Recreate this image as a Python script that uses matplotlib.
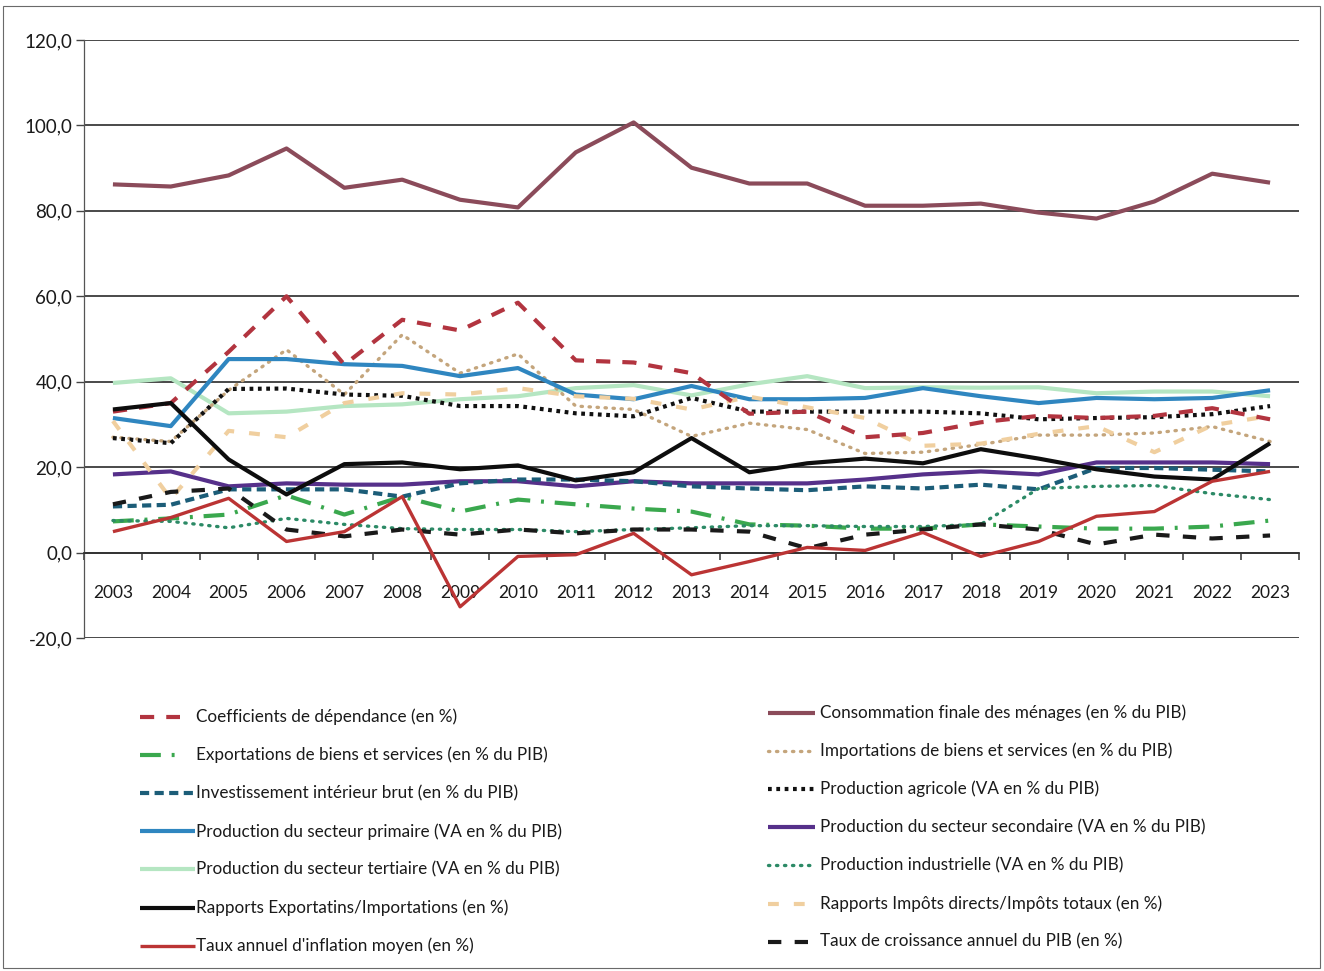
import matplotlib
matplotlib.use("Agg")
import matplotlib.pyplot as plt
from matplotlib.lines import Line2D
from matplotlib.patches import Rectangle
import numpy as np

# ---- data -------------------------------------------------------------
years = list(range(2003, 2024))

coef_dependance = [33, 35, 47, 60, 44, 54.5, 52, 58.5, 45, 44.5, 42, 32.5, 33, 27, 28, 30.5, 32, 31.5, 32, 33.8, 31.2]
consommation = [86.2, 85.7, 88.3, 94.6, 85.4, 87.3, 82.6, 80.8, 93.7, 100.7, 90.1, 86.4, 86.4, 81.2, 81.2, 81.7, 79.6, 78.2, 82.2, 88.7, 86.6]
exportations = [7.3, 8, 8.9, 13.4, 8.9, 13.1, 9.6, 12.4, 11.3, 10.3, 9.6, 6.6, 6.3, 5.6, 5.6, 6.6, 6.1, 5.6, 5.6, 6.1, 7.5]
importations = [27, 26, 38, 47.5, 37, 51, 42, 46.5, 34.3, 33.5, 27.2, 30.3, 28.8, 23.2, 23.5, 25.3, 27.5, 27.5, 28, 29.5, 26]
investissement = [10.8, 11.2, 14.8, 14.8, 14.8, 13.1, 16.2, 17.1, 17.1, 16.7, 15.5, 15, 14.6, 15.5, 15, 15.9, 14.8, 19.8, 19.8, 19.4, 19]
prod_agricole = [26.8, 25.6, 38.3, 38.4, 37, 36.7, 34.3, 34.3, 32.6, 31.9, 36.2, 33, 33, 33, 33, 32.6, 31.2, 31.5, 31.7, 32.4, 34.3]
prod_primaire = [31.5, 29.6, 45.3, 45.3, 44.1, 43.7, 41.3, 43.2, 37, 35.9, 39, 35.9, 35.9, 36.2, 38.5, 36.6, 35, 36.2, 35.9, 36.2, 38]
prod_secondaire = [18.3, 19, 15.5, 16.2, 15.9, 15.9, 16.7, 16.7, 15.5, 16.7, 16.2, 16.2, 16.2, 17.1, 18.3, 19, 18.3, 21.1, 21.1, 21.1, 20.7]
prod_tertiaire = [39.7, 40.8, 32.6, 33, 34.3, 34.7, 35.9, 36.6, 38.5, 39.2, 36.8, 39.4, 41.3, 38.5, 38.7, 38.6, 38.7, 37.3, 37.7, 37.7, 36.6]
prod_industrielle = [7.5, 7.3, 5.8, 8, 6.6, 5.6, 5.4, 5.4, 4.9, 5.4, 5.8, 6.3, 6.3, 6.1, 6.1, 6.6, 15, 15.5, 15.7, 13.8, 12.4]
rapport_exp_imp = [33.5, 35, 21.8, 13.6, 20.7, 21.1, 19.5, 20.4, 16.9, 18.8, 26.8, 18.8, 20.9, 22, 20.9, 24.2, 22, 19.5, 17.8, 17.1, 25.6]
rapport_impots = [30.8, 12.6, 28.5, 27, 35, 37.3, 37, 38.5, 36.6, 36, 33.5, 36.5, 34, 31.5, 25, 25.5, 27.8, 29.6, 23.5, 29.8, 32]
inflation = [4.9, 8.2, 12.7, 2.6, 4.9, 13.1, -12.7, -0.9, -0.5, 4.5, -5.2, -2.1, 1.2, 0.5, 4.7, -0.9, 2.6, 8.5, 9.6, 16.7, 19]
croissance_pib = [11.3, 14.2, 15, 5.4, 3.8, 5.4, 4.2, 5.4, 4.5, 5.4, 5.4, 4.9, 1, 4.2, 5.4, 6.6, 5.4, 1.9, 4.2, 3.3, 4]

y_ticks = [-20, 0, 20, 40, 60, 80, 100, 120]

plt.rcParams["font.family"] = ["Lato", "DejaVu Sans"]
TEXT_SIZE = 12.5
LEGEND_SIZE = 12.3
TEXT_COLOR = "#1a1a1a"

W, H = 1324, 971
fig = plt.figure(figsize=(W / 100, H / 100), dpi=100)
fig.patch.set_facecolor("white")


def fx(px):
    return px / W


def fy(py):
    return 1 - py / H


ax = fig.add_axes([fx(84), fy(638), fx(1299) - fx(84), fy(40) - fy(638)])

# series styles: (label, data, color, linewidth, dashes, capstyle, zorder)
series = {
    "coef": ("Coefficients de dépendance (en %)", coef_dependance, "#b2343f", 3.0, (3.4, 2.9), "butt", 5),
    "conso": ("Consommation finale des ménages (en % du PIB)", consommation, "#8b4b5a", 3.0, None, "butt", 5),
    "exp": ("Exportations de biens et services (en % du PIB)", exportations, "#3aa84e", 3.0, (5.0, 2.6, 0.7, 2.6), "butt", 4),
    "imp": ("Importations de biens et services (en % du PIB)", importations, "#c4a57c", 2.4, (0.4, 2.0), "round", 4),
    "inv": ("Investissement intérieur brut (en % du PIB)", investissement, "#1c5d78", 3.0, (2.2, 1.3), "butt", 4),
    "agri": ("Production agricole (VA en % du PIB)", prod_agricole, "#111111", 3.0, (0.9, 1.1), "butt", 4),
    "prim": ("Production du secteur primaire (VA en % du PIB)", prod_primaire, "#2f86c0", 3.0, None, "butt", 4),
    "sec": ("Production du secteur secondaire (VA en % du PIB)", prod_secondaire, "#56308a", 3.0, None, "butt", 3),
    "tert": ("Production du secteur tertiaire (VA en % du PIB)", prod_tertiaire, "#b5e6c2", 3.0, None, "butt", 3),
    "ind": ("Production industrielle (VA en % du PIB)", prod_industrielle, "#2c8a66", 2.4, (0.4, 2.0), "round", 4),
    "rei": ("Rapports Exportatins/Importations (en %)", rapport_exp_imp, "#0d0d0d", 3.0, None, "butt", 5),
    "rid": ("Rapports Impôts directs/Impôts totaux (en %)", rapport_impots, "#f0cf9f", 3.0, (2.6, 3.6), "butt", 4),
    "infl": ("Taux annuel d'inflation moyen (en %)", inflation, "#bb3434", 2.4, None, "butt", 6),
    "cro": ("Taux de croissance annuel du PIB (en %)", croissance_pib, "#1a1a1a", 3.0, (3.2, 3.2), "butt", 4),
}

x = np.arange(len(years))
for key, (label, vals, color, lw, dashes, cap, z) in series.items():
    kw = dict(color=color, lw=lw, zorder=z, solid_joinstyle="round", solid_capstyle="butt")
    if dashes is not None:
        kw["dashes"] = dashes
        kw["dash_capstyle"] = cap
    ax.plot(x, vals, **kw)

# axes, grid and ticks
ax.set_xlim(-0.5, len(years) - 0.5)
ax.set_ylim(-20, 120)
ax.set_yticks(y_ticks)
ax.set_yticklabels([f"{v:.1f}".replace(".", ",") for v in y_ticks])
ax.yaxis.grid(True, color="#3a3a3a", lw=1.3, zorder=1)
ax.set_axisbelow(True)

for s in ("top", "right"):
    ax.spines[s].set_visible(False)
ax.spines["left"].set_color("#555555")
ax.spines["left"].set_linewidth(0.9)
ax.spines["bottom"].set_position(("data", 0))
ax.spines["bottom"].set_color("#333333")
ax.spines["bottom"].set_linewidth(1.3)

ax.set_xticks(np.arange(-0.5, len(years), 1.0))
ax.set_xticklabels([])
ax.set_xticks(x, minor=True)
ax.set_xticklabels([str(y) for y in years], minor=True)
ax.tick_params(axis="x", which="major", direction="out", length=5, width=1.1, color="#333333")
ax.tick_params(axis="x", which="minor", length=0, pad=23, labelsize=TEXT_SIZE, labelcolor=TEXT_COLOR)
ax.tick_params(axis="y", direction="out", length=6, width=1, color="#444444", pad=2.5,
               labelsize=13.5, labelcolor=TEXT_COLOR)

# legend, drawn in two columns
left_keys = ["coef", "exp", "inv", "prim", "tert", "rei", "infl"]
right_keys = ["conso", "imp", "agri", "sec", "ind", "rid", "cro"]


def legend_entry(key, x0, x1, xt, yrow):
    label, _, color, lw, dashes, cap, _ = series[key]
    line = Line2D([fx(x0), fx(x1)], [fy(yrow), fy(yrow)], transform=fig.transFigure,
                  color=color, lw=lw, solid_capstyle="butt")
    if dashes is not None:
        line.set_dashes(dashes)
        line.set_dash_capstyle(cap)
    fig.add_artist(line)
    fig.text(fx(xt), fy(yrow), label, ha="left", va="center", fontsize=LEGEND_SIZE, color=TEXT_COLOR)


left_handle_ends = {"coef": 180, "exp": 182}
for i, key in enumerate(left_keys):
    yrow = 717 + 38.1 * i
    legend_entry(key, 140, left_handle_ends.get(key, 195), 196, yrow)

for i, key in enumerate(right_keys):
    yrow = 713 + 38.1 * i
    legend_entry(key, 768, 815, 820, yrow)

# chart frame
fig.add_artist(Rectangle((fx(3), fy(968)), fx(1320) - fx(3), fy(6) - fy(968),
                         transform=fig.transFigure, fill=False, ec="#6a6a6a", lw=0.8))

fig.savefig("out.png", dpi=100, facecolor="white")
